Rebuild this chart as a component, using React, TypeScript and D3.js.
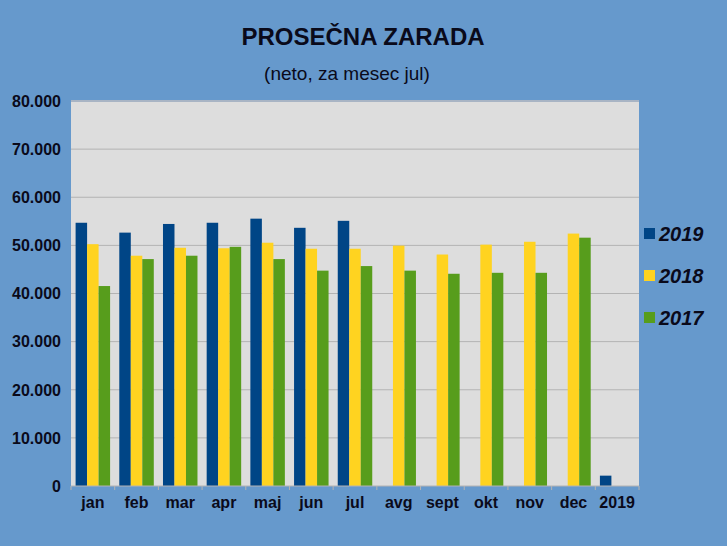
import * as d3 from "d3";

const categories = ["jan", "feb", "mar", "apr", "maj", "jun", "jul", "avg", "sept", "okt", "nov", "dec", "2019"];
const seriesNames = ["2019", "2018", "2017"];
const values2019 = [54700, 52650, 54450, 54700, 55550, 53650, 55100, null, null, null, null, null, 2150];
const values2018 = [50250, 47850, 49500, 49400, 50550, 49300, 49300, 49950, 48100, 50150, 50750, 52450, null];
const values2017 = [41550, 47150, 47850, 49700, 47150, 44750, 45700, 44750, 44100, 44300, 44300, 51600, null];
const yTicks = [0, 10000, 20000, 30000, 40000, 50000, 60000, 70000, 80000];
const colors = ["#004586", "#ffd320", "#579d1c"];

const W = 727;
const H = 546;
const M = { left: 71, right: 639, top: 101, bottom: 486 };
const FONT = "'Liberation Sans', Arial, sans-serif";

const fmt = (v: number) => (v === 0 ? "0" : d3.format(",")(v).replace(/,/g, "."));

export default function App() {
  const series = [values2019, values2018, values2017];
  const x = d3.scaleBand<string>().domain(categories).range([M.left, M.right]);
  const inner = d3
    .scaleBand<number>()
    .domain([0, 1, 2])
    .range([0, x.bandwidth()])
    .paddingOuter(0.4);
  const y = d3.scaleLinear().domain([0, 80000]).range([M.bottom, M.top]);

  return (
    <svg
      width={W}
      height={H}
      style={{ position: "absolute", left: 0, top: 0, display: "block" }}
      fontFamily={FONT}
    >
      <rect width={W} height={H} fill="#6699cc" />
      <text x={363} y={45} textAnchor="middle" fontSize={24} fontWeight="bold" fill="#0a0a1a">
        PROSEČNA ZARADA
      </text>
      <text x={347} y={80} textAnchor="middle" fontSize={19} fill="#0a0a1a">
        (neto, za mesec jul)
      </text>

      <rect x={M.left} y={M.top} width={M.right - M.left} height={M.bottom - M.top} fill="#dddddd" />
      <line x1={M.left} x2={M.right} y1={M.top} y2={M.top} stroke="#a8b4c4" strokeWidth={2} />
      {yTicks.map((t) => (
        <g key={t}>
          {t > 0 && t < 80000 && (
            <line x1={M.left} x2={M.right} y1={y(t)} y2={y(t)} stroke="#b3b3b3" strokeWidth={1} />
          )}
          <text
            x={61}
            y={y(t)}
            dy="0.36em"
            textAnchor="end"
            fontSize={16}
            fontWeight="bold"
            fill="#0a0a1a"
          >
            {fmt(t)}
          </text>
        </g>
      ))}

      {categories.map((c, ci) => (
        <g key={c}>
          {series.map((s, si) => {
            const v = s[ci];
            if (v == null) return null;
            return (
              <rect
                key={si}
                x={(x(c) as number) + (inner(si) as number)}
                y={y(v)}
                width={inner.bandwidth()}
                height={y(0) - y(v)}
                fill={colors[si]}
              />
            );
          })}
          <text
            x={(x(c) as number) + x.bandwidth() / 2}
            y={508}
            textAnchor="middle"
            fontSize={16}
            fontWeight="bold"
            fill="#0a0a1a"
          >
            {c}
          </text>
        </g>
      ))}

      <line x1={M.left} x2={M.right} y1={M.bottom} y2={M.bottom} stroke="#b3b3b3" strokeWidth={1} />
      {d3.range(categories.length + 1).map((i) => {
        const xx = M.left + i * x.step();
        return <line key={i} x1={xx} x2={xx} y1={M.bottom} y2={M.bottom + 4} stroke="#b3b3b3" />;
      })}

      {seriesNames.map((n, i) => (
        <g key={n} transform={`translate(644, ${234 + i * 42})`}>
          <rect x={0} y={-6} width={11} height={11} fill={colors[i]} />
          <text x={15} y={7} fontSize={20} fontWeight="bold" fontStyle="italic" fill="#0a0a1a">
            {n}
          </text>
        </g>
      ))}
    </svg>
  );
}
